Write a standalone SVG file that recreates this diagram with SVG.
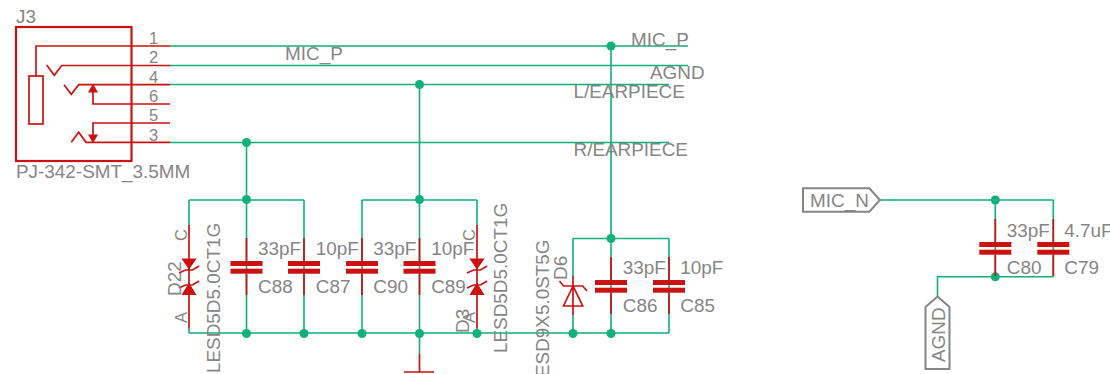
<svg xmlns="http://www.w3.org/2000/svg" width="1110" height="374" viewBox="0 0 1110 374">
<style>
text{font-family:"Liberation Sans",Arial,sans-serif;fill:#858585;font-size:18.9px}
.s{font-size:16.500px}
.w{fill:none;stroke:#10b07a;stroke-width:1.600}
.r{fill:none;stroke:#cc1111;stroke-width:1.700}
.b{fill:none;stroke:#cc1111;stroke-width:2.200}
.f{fill:#cc1111;stroke:#cc1111;stroke-width:1.200}
.p{fill:#cc1111}
.g{fill:none;stroke:#858585;stroke-width:2}
.d{fill:#10b07a}
</style>
<defs>
<g id="cap"><path class="r" d="M0-23V5M0 13V34"/><rect class="p" x="-16" y="0" width="32" height="5"/><rect class="p" x="-16" y="7.700" width="32" height="5"/></g>
<g id="tvs"><path class="r" d="M0-34V69"/><path class="f" d="M-6.500 0H6.500L0 9.500ZM-6.500 35.500H6.500L0 25Z"/><path class="r" d="M-10 14L-3.500 11H3.500L10 7M-10 29L-3.500 26H3.500L10 22"/></g>
</defs>
<g id="connectors">
<path class="w" d="M170 46H688M170 65.500H688M170 84.500H669M170 142.500H669M246.500 142.500V333M419.500 84.500V354M611 46V333M189 200H304M362 200H477M189 333H669M189 200V225M189 328V333M304 200V333M362 200V333M477 200V225M477 328V333M573 238.500H669M573 238.500V276M573 315V333M669 238.500V333M880 200H1053.300M995.300 200V276.700M1053.300 200V276.700M937.500 296V276.700H1053.300"/>
<circle class="d" cx="246.500" cy="142.500" r="4.500"/><circle class="d" cx="246.500" cy="199.500" r="4.500"/><circle class="d" cx="419.500" cy="84.500" r="4.500"/><circle class="d" cx="419.500" cy="199.500" r="4.500"/><circle class="d" cx="611" cy="46" r="4.500"/><circle class="d" cx="611" cy="238.500" r="4.500"/>
<circle class="d" cx="246.500" cy="333.500" r="4.500"/><circle class="d" cx="304" cy="333.500" r="4.500"/><circle class="d" cx="362" cy="333.500" r="4.500"/><circle class="d" cx="419.500" cy="333.500" r="4.500"/><circle class="d" cx="477" cy="333.500" r="4.500"/><circle class="d" cx="573" cy="333.500" r="4.500"/><circle class="d" cx="611" cy="333.500" r="4.500"/>
<circle class="d" cx="995.300" cy="200" r="4.500"/><circle class="d" cx="995.300" cy="276.700" r="4.500"/>
</g>
<g id="J3">
<rect class="b" x="16" y="27" width="115.500" height="134"/>
<rect class="r" x="29" y="76" width="14" height="48"/>
<path class="r" d="M36 76V46H170M46.700 65L54.300 75.300L61.700 65.500H170M64 84.700L71.300 94.300L78.700 84.700H170M93 92V104H170M170 123H93V135M71.300 142.300L78.700 132.300L86 142.300H170"/>
<path class="f" d="M93 85L97 92H89ZM93 142L89 135H97Z"/>
<text x="16" y="22.500">J3</text><text x="16" y="177.500">PJ-342-SMT_3.5MM</text>
<text class="s" x="149" y="44">1</text><text class="s" x="149" y="63">2</text><text class="s" x="149" y="82.500">4</text><text class="s" x="149" y="102">6</text><text class="s" x="149" y="121">5</text><text class="s" x="149" y="140.500">3</text>
</g>
<g id="D22"><use href="#tvs" x="189" y="259"/>
<text transform="translate(181 296) rotate(-90)">D22</text><text class="s" transform="translate(187 241) rotate(-90)">C</text><text class="s" transform="translate(187 323) rotate(-90)">A</text><text transform="translate(220 373) rotate(-90)">LESD5D5.0CT1G</text></g>
<g id="C88"><use href="#cap" x="246.500" y="261"/><text x="258" y="254.500">33pF</text><text x="258" y="292.500">C88</text></g>
<g id="C87"><use href="#cap" x="304" y="261"/><text x="315.800" y="254.500">10pF</text><text x="315.800" y="292.500">C87</text></g>
<g id="C90"><use href="#cap" x="362" y="261"/><text x="373.300" y="254.500">33pF</text><text x="373.300" y="292.500">C90</text></g>
<g id="C89"><use href="#cap" x="419.500" y="261"/><text x="431.200" y="254.500">10pF</text><text x="431.200" y="292.500">C89</text></g>
<g id="GND"><path class="r" d="M419.500 354V372M404 372H434"/></g>
<g id="D3"><use href="#tvs" x="477" y="259"/>
<text transform="translate(469 333) rotate(-90)">D3</text><text class="s" transform="translate(475 323) rotate(-90)">A</text><text class="s" transform="translate(475 241) rotate(-90)">C</text><text transform="translate(507 353) rotate(-90)">LESD5D5.0CT1G</text></g>
<g id="D6"><path class="r" d="M573 276V315M559.500 281L563.500 286H582.700L587 291M573 286L563.500 306H582.700Z"/>
<text transform="translate(566.500 280) rotate(-90)">D6</text><text transform="translate(548.500 377) rotate(-90)">ESD9X5.0ST5G</text></g>
<g id="C86"><use href="#cap" x="611" y="280"/><text x="622.800" y="274">33pF</text><text x="622.800" y="312">C86</text></g>
<g id="C85"><use href="#cap" x="669" y="280"/><text x="680.300" y="274">10pF</text><text x="680.300" y="312">C85</text></g>
<g id="MIC_N"><path class="g" d="M803 188.300H869.300L880 200L869.300 211.700H803Z"/><text x="810" y="207">MIC_N</text></g>
<g id="C80"><use href="#cap" x="995.300" y="242"/><text x="1006.800" y="236.500">33pF</text><text x="1006.800" y="274">C80</text></g>
<g id="C79"><use href="#cap" x="1053.300" y="242"/><text x="1064.300" y="236.500">4.7uF</text><text x="1064.300" y="274">C79</text></g>
<g id="AGND"><path class="g" d="M937.500 296.500L949.500 307V369H925.500V307Z"/><text transform="translate(945 362) rotate(-90)">AGND</text></g>
<g id="labels">
<text x="631" y="46">MIC_P</text><text x="285" y="60">MIC_P</text><text x="650" y="79">AGND</text><text x="573.500" y="98">L/EARPIECE</text><text x="573.500" y="156">R/EARPIECE</text>
</g>
</svg>
